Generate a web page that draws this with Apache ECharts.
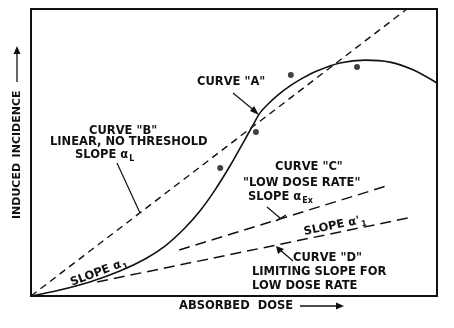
<!DOCTYPE html>
<html>
<head>
<meta charset="utf-8">
<script src="https://cdn.jsdelivr.net/npm/echarts@6/dist/echarts.min.js"></script>
<style>
  html, body { margin: 0; padding: 0; background: #fff; }
  #chart { width: 454px; height: 328px; }
</style>
</head>
<body>
<div id="chart"></div>
<script>
// dose (0-100) / incidence (0-100), arbitrary units
const doseA      = [0, 7.1, 14.5, 21.9, 28.1, 33.0, 37.9, 41.6, 45.3, 49.0, 52.2, 54.7, 56.4, 58.4, 60.8, 63.8, 67.0, 70.4, 76.1, 82.3, 88.4, 94.1, 100];
const incidenceA = [0, 2.1, 4.9, 8.7, 12.9, 17.4, 23.7, 29.6, 36.9, 45.3, 53.3, 59.6, 63.8, 66.9, 70.0, 73.2, 76.0, 78.4, 81.2, 82.2, 81.5, 78.8, 74.2];
const doseB      = [0, 92.6];
const incidenceB = [0, 100];
const doseC      = [36.5, 88.4];
const incidenceC = [16, 38.7];
const doseD      = [16.3, 92.9];
const incidenceD = [4.9, 27.2];
const pointDose      = [46.6, 55.4, 64, 80.3];
const pointIncidence = [44.6, 57.1, 77, 79.8];

const zip = (xs, ys) => xs.map((x, i) => [x, ys[i]]);

const ink = '#111';
const MAIN_FONT = 'bold 11.5px "DejaVu Sans"';
const SUB_FONT = 'bold 8px "DejaVu Sans"';

const measure = document.createElement('canvas').getContext('2d');
function textWidth(s, font) {
    measure.font = font;
    return measure.measureText(s).width;
}

// text annotation helpers
function txt(x, y, s, font) {
    return {
        type: 'text', x: x, y: y,
        style: { text: s, fill: ink, font: font || MAIN_FONT, textAlign: 'left', textVerticalAlign: 'middle' }
    };
}
function sub(x, y, s) {
    return { type: 'text', x: x, y: y, style: { text: s, fill: ink, font: SUB_FONT, textVerticalAlign: 'middle' } };
}
// label with a subscript, optionally rotated around its left end
function slope(x, y, rot, main, s) {
    let dx = textWidth(main, MAIN_FONT) + 1;
    return { type: 'group', x: x, y: y, rotation: rot, children: [txt(0, 0, main), sub(dx, 4, s)] };
}
function seg(x1, y1, x2, y2, w) {
    return { type: 'line', shape: { x1: x1, y1: y1, x2: x2, y2: y2 }, style: { stroke: ink, lineWidth: w || 1.2 } };
}
function head(pts) {
    return { type: 'polygon', shape: { points: pts }, style: { fill: ink } };
}

let myChart = echarts.init(document.getElementById('chart'));
myChart.setOption({
    animation: false,
    backgroundColor: '#fff',
    grid: { left: 31, right: 17, top: 9, bottom: 32, show: true, borderColor: ink, borderWidth: 2 },
    xAxis: {
        type: 'value', min: 0, max: 100,
        axisLine: { show: false }, axisTick: { show: false }, axisLabel: { show: false }, splitLine: { show: false }
    },
    yAxis: {
        type: 'value', min: 0, max: 100,
        axisLine: { show: false }, axisTick: { show: false }, axisLabel: { show: false }, splitLine: { show: false }
    },
    series: [
        {   // curve A
            type: 'line', smooth: 0.3, symbol: 'none', data: zip(doseA, incidenceA),
            lineStyle: { color: ink, width: 1.6 }
        },
        {   // curve B
            type: 'line', symbol: 'none', data: zip(doseB, incidenceB),
            lineStyle: { color: ink, width: 1.4, type: [7, 5] }
        },
        {   // curve C
            type: 'line', symbol: 'none', data: zip(doseC, incidenceC),
            lineStyle: { color: ink, width: 1.5, type: [11, 6] }
        },
        {   // curve D
            type: 'line', symbol: 'none', data: zip(doseD, incidenceD),
            lineStyle: { color: ink, width: 1.5, type: [11, 6] }
        },
        {
            type: 'scatter', symbol: 'circle', symbolSize: 6,
            data: zip(pointDose, pointIncidence),
            itemStyle: { color: ink }
        }
    ],
    graphic: [
        // curve A label + arrow
        txt(197, 82, 'CURVE "A"'),
        seg(233, 93, 256, 112),
        head([[259, 115], [250, 111], [254, 106]]),
        // curve B
        txt(89, 131, 'CURVE "B"'),
        txt(50, 142, 'LINEAR, NO THRESHOLD'),
        slope(75, 155, 0, 'SLOPE α', 'L'),
        seg(117, 163, 140, 213),
        // curve C
        txt(275, 167, 'CURVE "C"'),
        txt(243, 183, '"LOW DOSE RATE"'),
        slope(248, 197, 0, 'SLOPE α', 'Ex'),
        seg(267, 207, 280, 218),
        seg(276, 221, 286, 215),
        // slope alpha'1 between C and D
        slope(304, 232, 0.2, "SLOPE α'", '1'),
        // curve D
        txt(293, 258, 'CURVE "D"'),
        txt(252, 272, 'LIMITING SLOPE FOR'),
        txt(252, 286, 'LOW DOSE RATE'),
        seg(293, 261, 279, 249),
        head([[276, 246], [278, 254], [284, 249]]),
        // slope alpha1 near the origin
        slope(71, 283, 0.36, 'SLOPE α', '1'),
        // axis titles
        txt(179, 306, 'ABSORBED  DOSE'),
        seg(300, 306, 340, 306, 1.3),
        head([[344, 306], [336, 302.5], [336, 309.5]]),
        { type: 'group', x: 17, y: 219, rotation: Math.PI / 2,
          children: [txt(0, 0, 'INDUCED\u2002INCIDENCE', 'bold 11px "DejaVu Sans"')] },
        seg(17, 82, 17, 50, 1.3),
        head([[17, 46], [13.5, 54], [20.5, 54]])
    ]
});
</script>
</body>
</html>
